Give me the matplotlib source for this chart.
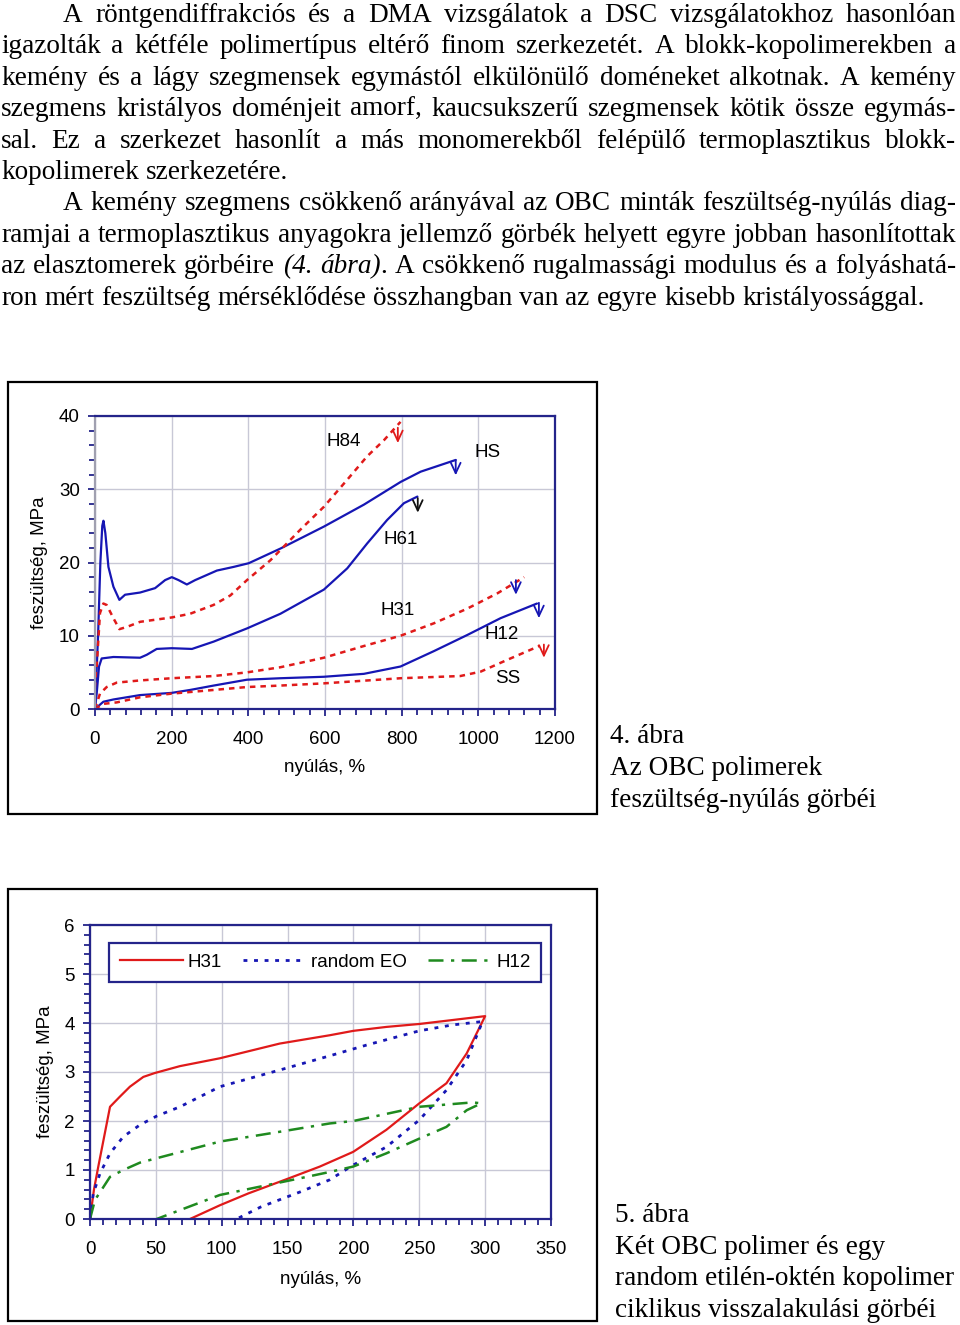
import matplotlib
matplotlib.use('Agg')
import matplotlib.pyplot as plt
from matplotlib.patches import Rectangle
from matplotlib.lines import Line2D
from matplotlib.ticker import MultipleLocator
import numpy as np

# ---------------- DATA ----------------
para1 = [
    "A röntgendiffrakciós és a DMA vizsgálatok a DSC vizsgálatokhoz hasonlóan",
    "igazolták a kétféle polimertípus eltérő finom szerkezetét. A blokk-kopolimerekben a",
    "kemény és a lágy szegmensek egymástól elkülönülő doméneket alkotnak. A kemény",
    "szegmens kristályos doménjeit amorf, kaucsukszerű szegmensek kötik össze egymás-",
    "sal. Ez a szerkezet hasonlít a más monomerekből felépülő termoplasztikus blokk-",
    "kopolimerek szerkezetére.",
]
para2 = [
    "A kemény szegmens csökkenő arányával az OBC minták feszültség-nyúlás diag-",
    "ramjai a termoplasztikus anyagokra jellemző görbék helyett egyre jobban hasonlítottak",
    "az elasztomerek görbéire _(4. ábra)_. A csökkenő rugalmassági modulus és a folyáshatá-",
    "ron mért feszültség mérséklődése összhangban van az egyre kisebb kristályossággal.",
]
caption1 = ["4. ábra", "Az OBC polimerek", "feszültség-nyúlás görbéi"]
caption2 = ["5. ábra", "Két OBC polimer és egy", "random etilén-oktén kopolimer",
            "ciklikus visszalakulási görbéi"]

# Figure 4: stress-strain curves
hs_x = [0, 8, 14, 19, 22, 27, 35, 48, 63.6, 78.4, 117.6, 156.8, 183, 200.4, 217.8, 239.6,
        261.4, 318, 361.7, 400.9, 483.6, 597, 701.5, 797.3, 849.6, 941]
hs_y = [0, 10, 20, 25, 25.7, 24, 19.4, 16.7, 14.9, 15.6, 15.9, 16.5, 17.6, 18.0, 17.6, 17.0,
        17.6, 18.9, 19.4, 19.9, 21.9, 24.9, 27.9, 31.0, 32.4, 34.0]
h84_x = [0, 4.4, 13, 21.8, 30.5, 48, 63.6, 82.8, 117.6, 200.4, 248, 309, 353, 396.5, 457.5,
         536, 597, 658, 710, 753.9, 797]
h84_y = [0, 5.8, 13.1, 14.4, 14.2, 12.4, 10.9, 11.2, 11.9, 12.5, 13.0, 14.2, 15.5, 17.6, 20.3,
         24.5, 27.6, 31.3, 34.5, 36.7, 39.2]
h61_x = [0, 4.4, 10.5, 17.4, 48, 117.6, 135, 161, 200, 253, 309.6, 353, 396.5, 483.6, 597,
         658, 710, 762, 806, 841]
h61_y = [0, 2.1, 5.8, 6.9, 7.1, 7.0, 7.4, 8.2, 8.3, 8.2, 9.2, 10.1, 11.0, 13.0, 16.3,
         19.2, 22.6, 25.8, 28.1, 29.0]
h31_x = [0, 13, 30.5, 56.6, 117.6, 200, 309.6, 396.5, 483.6, 597, 701.5, 797, 884, 971, 1050,
         1119.6]
h31_y = [0, 2.1, 3.0, 3.6, 3.9, 4.2, 4.5, 5.0, 5.7, 7.0, 8.6, 10.0, 11.7, 13.7, 15.8, 18.0]
h12_x = [0, 21.8, 48, 117.6, 200, 248, 309.6, 396.5, 483.6, 597, 701.5, 797, 884, 971, 1058,
         1153]
h12_y = [0, 0.99, 1.3, 1.9, 2.2, 2.6, 3.2, 4.0, 4.2, 4.4, 4.8, 5.8, 7.9, 10.1, 12.4, 14.4]
ss_x = [0, 21.8, 56.6, 117.6, 200, 309.6, 396.5, 483.6, 597, 797, 953, 1006, 1075, 1159]
ss_y = [0, 0.7, 0.9, 1.6, 2.1, 2.6, 3.0, 3.2, 3.5, 4.2, 4.5, 5.1, 6.7, 8.6]

fig4_names = ["HS", "H84", "H61", "H31", "H12", "SS"]
label_x = [1025, 648, 797, 790, 1061, 1077]
label_y = [35.0, 36.5, 23.1, 13.4, 10.2, 4.1]
break_x = [941, 790, 842, 1098, 1158, 1171]
break_top = [34.0, 38.4, 28.8, 17.6, 14.5, 8.8]
break_tip = [31.9, 36.3, 26.8, 15.6, 12.4, 7.0]

# Figure 5: cyclic recovery curves (loading then unloading)
r31_load_x = [0, 3, 6.3, 15.2, 22.8, 30.3, 40.5, 49.3, 68.3, 98.6, 144, 182, 200, 225, 250, 275, 300]
r31_load_y = [0, 0.6, 1.07, 2.29, 2.5, 2.7, 2.9, 2.98, 3.12, 3.28, 3.58, 3.75, 3.84, 3.92, 3.98, 4.06, 4.14]
r31_unl_x = [300, 286, 270.6, 250, 225, 199.8, 174.5, 149, 120, 98.6, 75.9]
r31_unl_y = [4.14, 3.38, 2.77, 2.36, 1.82, 1.37, 1.07, 0.81, 0.52, 0.28, 0]
reo_load_x = [0, 2.5, 7.6, 15.2, 25.3, 37.9, 50.6, 68.3, 98.6, 144, 182, 210, 250, 275, 298]
reo_load_y = [0, 0.52, 0.93, 1.34, 1.68, 1.92, 2.1, 2.29, 2.7, 3.04, 3.33, 3.55, 3.84, 3.96, 4.03]
reo_unl_x = [298, 286, 270.6, 250, 225, 199.8, 182, 159.3, 130, 111.3]
reo_unl_y = [4.03, 3.24, 2.63, 2.02, 1.47, 1.1, 0.8, 0.55, 0.25, 0]
r12_load_x = [0, 3.8, 15.2, 25.3, 37.9, 50.6, 98.6, 144, 182, 200, 250, 290.6, 297]
r12_load_y = [0, 0.39, 0.86, 1.0, 1.15, 1.24, 1.58, 1.78, 1.95, 2.0, 2.29, 2.38, 2.36]
r12_unl_x = [297, 286, 270.6, 250, 225, 199.8, 182, 159.3, 98.6, 50.6]
r12_unl_y = [2.36, 2.22, 1.88, 1.64, 1.34, 1.07, 0.96, 0.83, 0.49, 0]
fig5_labels = ["H31", "random EO", "H12"]

# ---------------- STYLE ----------------
W, H = 960, 1325
SERIF = 'Liberation Serif'
SANS = 'Liberation Sans'
NAVY = '#24248a'
BLUE = '#1616b4'
RED = '#e01a1a'
GREEN = '#1f8a1f'
GRID = '#c8c8d6'
FS = 13.5

fig = plt.figure(figsize=(W / 100, H / 100), dpi=100)
renderer = fig.canvas.get_renderer()


def fx(px):
    return px / W


def fy(py):
    return 1 - py / H


def axes_px(l, t, r, b):
    return fig.add_axes([fx(l), fy(b), (r - l) / W, (b - t) / H])


def measure(s, size, italic=False):
    t = fig.text(0, 0, s, fontsize=size, family=SERIF, style='italic' if italic else 'normal')
    w = t.get_window_extent(renderer).width
    t.remove()
    return w


def parse(line):
    words, cur, buf, italic = [], [], '', False
    for ch in line:
        if ch == '_':
            if buf:
                cur.append((buf, italic))
                buf = ''
            italic = not italic
        elif ch == ' ':
            if buf:
                cur.append((buf, italic))
                buf = ''
            if cur:
                words.append(cur)
                cur = []
        else:
            buf += ch
    if buf:
        cur.append((buf, italic))
    if cur:
        words.append(cur)
    return words


# body text size calibrated on the last (non-justified) line width
TS = 20 * 924 / measure(para2[-1], 20)
space_w = measure('x x', TS) - measure('xx', TS)


def draw_line(line, left, right, baseline, justify):
    words = parse(line)
    widths = [sum(measure(s, TS, it) for s, it in w) for w in words]
    if justify and len(words) > 1:
        gap = (right - left - sum(widths)) / (len(words) - 1)
    else:
        gap = space_w
    x = left
    for w, wd in zip(words, widths):
        xx = x
        for s, it in w:
            fig.text(fx(xx), fy(baseline), s, fontsize=TS, family=SERIF,
                     style='italic' if it else 'normal', ha='left', va='baseline')
            xx += measure(s, TS, it)
        x += wd + gap


LEFT, RIGHT, INDENT = 1, 956, 62
base = 21.7
pitch = 31.45
k = 0
for para in (para1, para2):
    for i, line in enumerate(para):
        left = LEFT + (INDENT if i == 0 else 0)
        draw_line(line, left, RIGHT, base + k * pitch, i < len(para) - 1)
        k += 1

for i, line in enumerate(caption1):
    fig.text(fx(610), fy(743 + i * 31.8), line, fontsize=TS, family=SERIF, ha='left', va='baseline')
for i, line in enumerate(caption2):
    fig.text(fx(615), fy(1222 + i * 31.6), line, fontsize=TS, family=SERIF, ha='left', va='baseline')

# frames
for (l, t, r, b) in [(8, 382, 597, 814), (8, 889, 597, 1321)]:
    fig.add_artist(Rectangle((fx(l), fy(b)), (r - l) / W, (b - t) / H, transform=fig.transFigure,
                             fill=False, ec='black', lw=1.6))


def style_axes(ax, xpad, ypad):
    ax.tick_params(which='both', direction='out', colors=NAVY, labelcolor='black',
                   labelsize=FS, width=1.3)
    ax.tick_params(which='major', length=5)
    ax.tick_params(which='minor', length=4)
    ax.tick_params(axis='x', which='major', pad=xpad)
    ax.tick_params(axis='y', which='major', pad=ypad)
    for lab in ax.get_xticklabels() + ax.get_yticklabels():
        lab.set_family(SANS)
    ax.grid(which='major', color=GRID, lw=1.0)
    ax.set_axisbelow(True)
    for sp in ax.spines.values():
        sp.set_color(NAVY)
        sp.set_linewidth(1.6)


# ---------------- FIGURE 4 ----------------
ax1 = axes_px(95, 416, 555, 709)
series4 = [(hs_x, hs_y, BLUE, '-'), (h84_x, h84_y, RED, (0, (2.2, 2.0))),
           (h61_x, h61_y, BLUE, '-'), (h31_x, h31_y, RED, (0, (2.2, 2.0))),
           (h12_x, h12_y, BLUE, '-'), (ss_x, ss_y, RED, (0, (2.2, 2.0)))]
for x, y, c, ls in series4:
    ax1.plot(x, y, color=c, ls=ls, lw=1.8 if ls != '-' else 1.6,
             solid_capstyle='round', solid_joinstyle='round')
arrow_cols = [BLUE, RED, '#111111', BLUE, BLUE, RED]
for bx, bt, bb, c in zip(break_x, break_top, break_tip, arrow_cols):
    ax1.annotate('', xy=(bx, bb), xytext=(bx, bt),
                 arrowprops=dict(arrowstyle='->,head_length=0.75,head_width=0.35',
                                 color=c, lw=1.3, shrinkA=0, shrinkB=0))
for n, lx, ly in zip(fig4_names, label_x, label_y):
    ax1.text(lx, ly, n, ha='center', va='center', fontsize=FS, family=SANS)
ax1.set_xlim(0, 1200)
ax1.set_ylim(0, 40)
ax1.set_xticks(np.arange(0, 1201, 200))
ax1.set_yticks(np.arange(0, 41, 10))
ax1.xaxis.set_minor_locator(MultipleLocator(40))
ax1.yaxis.set_minor_locator(MultipleLocator(2))
style_axes(ax1, 10.8, 6.0)
ax1.spines['left'].set_color('#a0a0b0')
ax1.set_xlabel('nyúlás, %', fontsize=FS, family=SANS, va='center')
ax1.xaxis.set_label_coords(0.5, (709 - 768) / 293)
ax1.set_ylabel('feszültség, MPa', fontsize=FS, family=SANS, va='center')
ax1.yaxis.set_label_coords((40 - 95) / 460, 0.5)

# ---------------- FIGURE 5 ----------------
ax2 = axes_px(90, 925, 551, 1219)
styles5 = [(RED, '-', 1.6), (BLUE, (0, (1.4, 2.4)), 2.0), (GREEN, (0, (6, 3, 1.3, 3)), 1.8)]
data5 = [(r31_load_x + r31_unl_x, r31_load_y + r31_unl_y),
         (reo_load_x + reo_unl_x, reo_load_y + reo_unl_y),
         (r12_load_x + r12_unl_x, r12_load_y + r12_unl_y)]
handles = []
for (x, y), (c, ls, lw), lab in zip(data5, styles5, fig5_labels):
    ax2.plot(x, y, color=c, ls=ls, lw=lw, solid_joinstyle='round')
    handles.append(Line2D([], [], color=c, ls=ls, lw=lw))
ax2.set_xlim(0, 350)
ax2.set_ylim(0, 6)
ax2.set_xticks(np.arange(0, 351, 50))
ax2.set_yticks(np.arange(0, 7, 1))
ax2.xaxis.set_minor_locator(MultipleLocator(10))
ax2.yaxis.set_minor_locator(MultipleLocator(0.2))
style_axes(ax2, 11.0, 6.0)
ax2.set_xlabel('nyúlás, %', fontsize=FS, family=SANS, va='center')
ax2.xaxis.set_label_coords(0.5, (1219 - 1279) / 294)
ax2.set_ylabel('feszültség, MPa', fontsize=FS, family=SANS, va='center')
ax2.yaxis.set_label_coords((45 - 90) / 461, 0.5)
leg = ax2.legend(handles, fig5_labels, ncol=3, loc='upper left',
                 bbox_to_anchor=((109 - 90) / 461, (1219 - 943) / 294), borderaxespad=0,
                 frameon=True, fancybox=False, edgecolor=NAVY, framealpha=1,
                 handlelength=3.36, handletextpad=0.27, columnspacing=1.12, borderpad=0.58,
                 prop={'family': SANS, 'size': FS})
leg.get_frame().set_linewidth(1.6)

fig.savefig('out.png', dpi=100)
